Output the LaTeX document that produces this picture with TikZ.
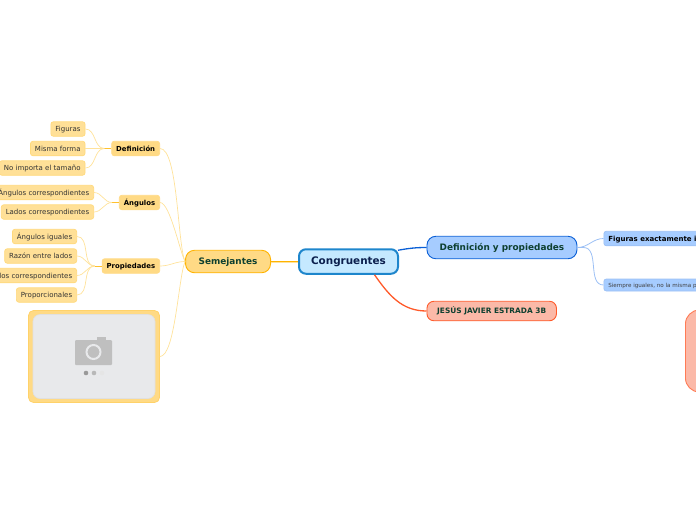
\documentclass[tikz,border=0pt]{standalone}
\usepackage{fontspec}
\setmainfont{DejaVu Sans}
\usetikzlibrary{positioning}
\definecolor{rootfill}{HTML}{C5E9FF}
\definecolor{rootline}{HTML}{1E86CC}
\definecolor{rootink}{HTML}{0B1F4D}
\definecolor{subink}{HTML}{0E4030}
\definecolor{orfill}{HTML}{FFDA85}
\definecolor{orline}{HTML}{FFB300}
\definecolor{orpale}{HTML}{FFE29A}
\definecolor{blfill}{HTML}{A6CCFF}
\definecolor{blline}{HTML}{0A5FD6}
\definecolor{blpale}{HTML}{9CC0F5}
\definecolor{refill}{HTML}{FBB9A8}
\definecolor{reline}{HTML}{FF5A2A}
\definecolor{marcofill}{HTML}{E8E9EB}
\begin{document}
\begin{tikzpicture}[x=1pt, y=-1pt, node distance=5pt,
    box/.style={rounded corners=2.5pt, inner ysep=0pt, inner xsep=4.5pt, minimum height=14.5pt, align=center, text height=6.8pt, text depth=1.2pt},
    leaf/.style={box, draw=orpale!80!orline, fill=orfill!85!white, line width=0.7pt, font=\fontsize{7}{8}\selectfont, text=black!80},
    mid/.style={leaf, draw=orfill, fill=orfill, font=\fontsize{6.9}{8}\selectfont\bfseries, text=black},
    main/.style={box, rounded corners=9pt, line width=0.9pt, minimum height=22.5pt, text=subink, font=\fontsize{8.9}{10}\selectfont\bfseries},
    soft/.style={orpale, line width=0.7pt},
    bluebox/.style={box, draw=blpale, fill=blfill, line width=0.7pt, text=black}]
    \useasboundingbox[clip] (0,0) rectangle (696,520);
    % main topics
    \node[box, rounded corners=7pt, draw=rootline, fill=rootfill, line width=2pt, minimum width=99pt, minimum height=24.5pt, text=rootink, font=\fontsize{10.4}{12}\selectfont\bfseries, text height=8.5pt, text depth=2pt] (root) at (348.5,261.5) {Congruentes};
    \node[main, draw=orline, fill=orfill, minimum width=85pt, left=27pt of root] (semej) {Semejantes};
    \node[main, draw=blline, fill=blfill, minimum width=150pt, anchor=west] (defprop) at (426.5,247.5) {Definición y propiedades};
    \node[main, rounded corners=7pt, draw=reline, fill=refill, minimum width=129.5pt, minimum height=19.5pt, anchor=west, font=\fontsize{7.4}{8}\selectfont\bfseries] (autor) at (426.5,311) {JESÚS JAVIER ESTRADA 3B};
    % right side, cut by the page
    \node[bluebox, anchor=west, font=\fontsize{7}{8}\selectfont\bfseries] (exact) at (603.5,238.5) {Figuras exactamente iguales};
    \node[bluebox, minimum height=12pt, anchor=west, text=black!75, font=\fontsize{5.6}{7}\selectfont] (siempre) at (603.5,285) {Siempre iguales, no la misma posición};
    \node[box, rounded corners=14pt, draw=reline!80, fill=refill, line width=0.9pt, minimum width=60pt, minimum height=82pt, anchor=west] (grande) at (685,351) {};
    % left side
    \node[mid, anchor=east] (defi) at (160,148.5) {Definición};
    \node[mid, anchor=east] (angu) at (160,202.5) {Ángulos};
    \node[mid, anchor=east] (prop) at (160,266) {Propiedades};
    \node[leaf, left=26pt of defi] (misma) {Misma forma};
    \node[leaf, above=4.3pt of misma.north east, anchor=south east] (figu) {Figuras};
    \node[leaf, below=4.3pt of misma.south east, anchor=north east] (tamano) {No importa el tamaño};
    \node[leaf, anchor=east] (acorr) at (94,192.5) {Ángulos correspondientes};
    \node[leaf, below=4.3pt of acorr.south east, anchor=north east] (lcorr) {Lados correspondientes};
    \node[leaf, anchor=east] (aigu) at (77,236.5) {Ángulos iguales};
    \node[leaf, below=4.3pt of aigu.south east, anchor=north east] (razon) {Razón entre lados};
    \node[leaf, below=4.3pt of razon.south east, anchor=north east] (lados) {Lados correspondientes};
    \node[leaf, below=4.3pt of lados.south east, anchor=north east] (propor) {Proporcionales};
    % picture placeholder
    \node[box, rounded corners=5pt, draw=orfill!80!orline, fill=orfill, line width=0.8pt, minimum width=131pt, minimum height=92pt] (foto) at (94,356.5) {};
    \node[box, rounded corners=7pt, draw=black!12, fill=marcofill, line width=0.6pt, minimum width=122pt, minimum height=84pt] (marco) at (foto.center) {};
    \fill[black!25, rounded corners=1pt] (75,340) rectangle (112,365);
    \fill[black!25] (97,337) rectangle (106,341);
    \draw[marcofill, line width=2pt] (93.5,352) circle (7pt);
    \fill[black!40] (86,373) circle (2.3pt);
    \fill[black!28] (94,373) circle (2.3pt);
    \fill[black!10] (102,373) circle (2.3pt);
    % connectors
    \draw[orpale, line width=2pt] (root) -- (semej);
    \draw[orline, line width=1.1pt] (root) -- (semej);
    \draw[blline, line width=1.3pt] ([yshift=6pt]root.north east) ++(-1,8) to[out=10,in=180] (defprop.west);
    \draw[reline, line width=1.3pt] ([xshift=26pt]root.south) to[out=-55,in=180] (autor.west);
    \draw[blpale, line width=0.8pt] (defprop.east) to[out=0,in=180] (exact.west);
    \draw[blpale, line width=0.8pt] (defprop.east) -- ++(6,0) to[out=0,in=180] (siempre.west);
    \foreach \kid/\ang in {defi/115, angu/120, foto/245}
        \draw[soft] (semej.west) to[out=\ang,in=0,looseness=0.4] (\kid.east);
    \draw[soft] (semej.west) to[out=180,in=0] (prop.east);
    % short stems of the forks
    \coordinate[left=7pt of defi] (defifork);
    \coordinate[left=7pt of angu] (angufork);
    \coordinate[left=7pt of prop] (propfork);
    \draw[orline!70!orpale, line width=1pt] (defi) -- (defifork);
    \draw[orline!70!orpale, line width=1pt] (angu) -- (angufork);
    \draw[orline!70!orpale, line width=1pt] (prop) -- (propfork);
    \foreach \kid in {figu, misma, tamano}
        \draw[soft] (defifork) to[out=180,in=0] (\kid.east);
    \foreach \kid in {acorr, lcorr}
        \draw[soft] (angufork) to[out=180,in=0] (\kid.east);
    \foreach \kid in {aigu, razon, lados, propor}
        \draw[soft] (propfork) to[out=180,in=0] (\kid.east);
\end{tikzpicture}
\end{document}
